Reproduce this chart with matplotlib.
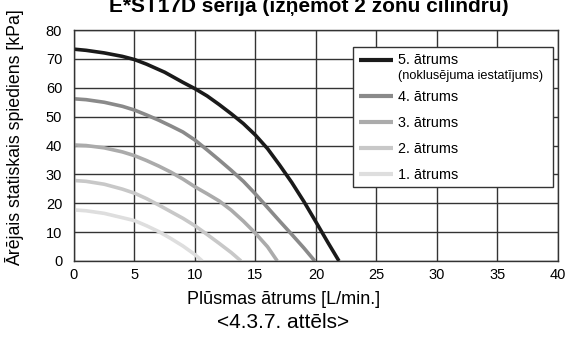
# Pump curve: external static pressure vs flow rate, 5 speeds
import numpy as np
import matplotlib.pyplot as plt

plt.rcParams['font.family'] = ['Liberation Sans', 'DejaVu Sans']

# flow rate [L/min] and pressure [kPa] per speed
x5 = [0, 1, 2.5, 4, 5, 6, 7.5, 9, 10, 11, 12, 13, 14, 15, 16, 17, 18, 19, 20, 21, 21.9]
y5 = [73.4, 73.0, 72.1, 70.9, 69.8, 68.2, 65.4, 61.9, 59.7, 57.2, 54.2, 51.0,
      47.6, 43.6, 38.9, 33.2, 27.2, 20.6, 13.5, 6.3, 0]
x4 = [0, 1, 2.5, 4, 5, 6, 7, 8, 9, 10, 11, 12, 13, 14, 15, 16, 17, 18, 19, 19.9]
y4 = [56.2, 55.9, 55, 53.6, 52.3, 50.6, 48.8, 46.8, 44.7, 41.9, 38.5, 35, 31.4,
      27.6, 23.2, 18.5, 13.8, 9.2, 4.5, 0]
x3 = [0, 1, 2.5, 4, 5, 6, 7, 8, 9, 10, 11, 12, 13, 14, 15, 16, 16.8]
y3 = [40.2, 40, 39.2, 37.8, 36.5, 34.8, 32.9, 30.8, 28.4, 25.7, 23.3, 20.8,
      17.6, 13.8, 9.6, 4.9, 0]
x2 = [0, 1, 2.5, 4, 5, 6, 7, 8, 9, 10, 11, 12, 13, 13.8]
y2 = [27.9, 27.6, 26.6, 24.9, 23.5, 21.6, 19.4, 17.1, 14.8, 12.2, 9.2, 6.1, 2.9, 0]
x1 = [0, 1, 2.5, 4, 5, 6, 7, 8, 9, 10, 10.6]
y1 = [17.7, 17.4, 16.5, 15, 14, 12.2, 10.2, 7.8, 5.2, 2.2, 0]

labels = ['5. ātrums\n', '4. ātrums', '3. ātrums', '2. ātrums', '1. ātrums']
note = '(noklusējuma iestatījums)'
colors = ['#1a1a1a', '#8a8a8a', '#ababab', '#c8c8c8', '#dedede']

fig = plt.figure(figsize=(5.67, 3.4), dpi=100)
ax = fig.add_axes([0.1305, 0.2324, 0.8536, 0.679])

series = [(x5, y5), (x4, y4), (x3, y3), (x2, y2), (x1, y1)]
for (xs, ys), lab, c in zip(series, labels, colors):
    ax.plot(xs, ys, color=c, lw=2.6, label=lab, solid_capstyle='butt',
            solid_joinstyle='round')

ax.set_xlim(0, 40)
ax.set_ylim(0, 80)
ax.set_xticks(range(0, 41, 5))
ax.set_yticks(range(0, 81, 10))
ax.grid(True, color='#333333', lw=1.0)
ax.tick_params(length=0, labelsize=10.5)
ax.tick_params(axis='y', pad=8.5)
ax.tick_params(axis='x', pad=5)
for s in ax.spines.values():
    s.set_color('#333333')
    s.set_linewidth(1.0)

fig.text(0.5, 1 - 300 / 340, 'Plūsmas ātrums [L/min.]', ha='center',
         va='center', fontsize=13)
fig.text(15 / 567, 1 - 138 / 340, 'Ārējais statiskais spiediens [kPa]',
         ha='center', va='center', rotation=90, fontsize=12.8)

leg = ax.legend(loc='upper left', bbox_to_anchor=(0.5764, 0, 0.413, 0.926),
                mode='expand', borderaxespad=0, fontsize=10.4,
                fancybox=False, framealpha=1, edgecolor='#333333',
                handlelength=2.35, handletextpad=0.35, borderpad=0.4,
                labelspacing=0.82)
leg.get_frame().set_linewidth(1.0)
for ln in leg.get_lines():
    ln.set_linewidth(3.0)
t0 = leg.get_texts()[0]
t0.set_linespacing(0.75)
l0 = leg.get_lines()[0]
l0.set_ydata(np.asarray(l0.get_ydata()) + 4)
# second line of the 5th-speed label, smaller, drawn after the legend
ax.annotate(note, xy=(0, 0), xycoords=t0, xytext=(0, -2.8),
            textcoords='offset points', va='bottom', ha='left', fontsize=9.2,
            zorder=10)

fig.text(308.5 / 567, 1 - 12 / 340, 'E*ST17D sērija (izņemot 2 zonu cilindru)',
         ha='center', va='baseline', fontsize=15, fontweight='bold')
fig.text(0.5, 1 - 322 / 340, '<4.3.7. attēls>', ha='center', va='center',
         fontsize=15)

plt.savefig('out.png', dpi=100)
